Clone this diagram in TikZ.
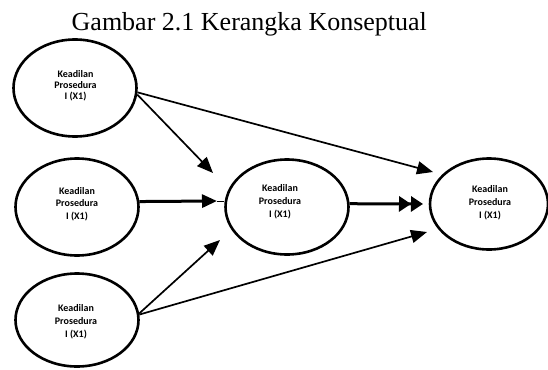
\documentclass[tikz,border=0pt]{standalone}
\usepackage{fontspec}
\setmainfont{Liberation Serif}
\newfontfamily\calib{Carlito}
\usetikzlibrary{arrows.meta,shapes.geometric}
\tikzset{
  oval/.style={draw=black, line width=2.6pt, ellipse, inner sep=0pt},
  lbl/.style={font={\calib\bfseries\fontsize{10}{13}\selectfont}, align=center, inner sep=0pt},
  lblt/.style={font={\calib\bfseries\fontsize{10}{10.8}\selectfont}, align=center, inner sep=0pt},
  thinarrow/.style={line width=1.7pt, -{Triangle[length=16pt,width=13pt]}},
  thickarrow/.style={line width=3pt, -{Triangle[length=15pt,width=13pt]}},
  dblarrow/.style={line width=3pt, -{Triangle[length=12pt,width=15pt] Triangle[length=12pt,width=15pt]}},
}
\begin{document}
\begin{tikzpicture}[x=1pt,y=-1pt]
\useasboundingbox (0,0) rectangle (548,369);
\node[font=\fontsize{26}{30}\selectfont, anchor=base west, inner sep=0pt] (title) at (71.5,30.5) {Gambar 2.1 Kerangka Konseptual};

\node[oval, minimum width=123pt, minimum height=97pt] (e1) at (75,88) {};
\node[oval, minimum width=123pt, minimum height=97pt] (e2) at (77,207) {};
\node[oval, minimum width=123pt, minimum height=93pt] (e3) at (77,320) {};
\node[oval, minimum width=123pt, minimum height=95pt] (e4) at (287,207) {};
\node[oval, minimum width=118pt, minimum height=91pt] (e5) at (489,204) {};

\node[lblt] (t1) at (75.5,85.5) {Keadilan\\Prosedura\\I (X1)};
\node[lbl, font={\calib\bfseries\fontsize{10}{12.7}\selectfont}] (t2) at (77,204) {Keadilan\\Prosedura\\I (X1)};
\node[lbl] (t3) at (76,322) {Keadilan\\Prosedura\\I (X1)};
\node[lbl] (t4) at (280,201.5) {Keadilan\\Prosedura\\I (X1)};
\node[lbl] (t5) at (490,202.5) {Keadilan\\Prosedura\\I (X1)};

\coordinate (p1) at (433,172);
\coordinate (p2) at (213,173);
\coordinate (p3) at (217,201);
\coordinate (p4) at (423,204);
\coordinate (p5) at (220,240);
\coordinate (p6) at (427,232);

\draw[thinarrow] (e1.-4) -- (p1);
\draw[thinarrow] (e1.-6) -- (p2);
\draw[thickarrow] (e2.5) -- (p3);
\draw[line width=1pt] (p3) -- (e4.west |- p3);
\draw[dblarrow] (e4.3) -- (p4);
\draw[thinarrow] (e3.6) -- (p5);
\draw[thinarrow] (e3.5) -- (p6);
\end{tikzpicture}
\end{document}
